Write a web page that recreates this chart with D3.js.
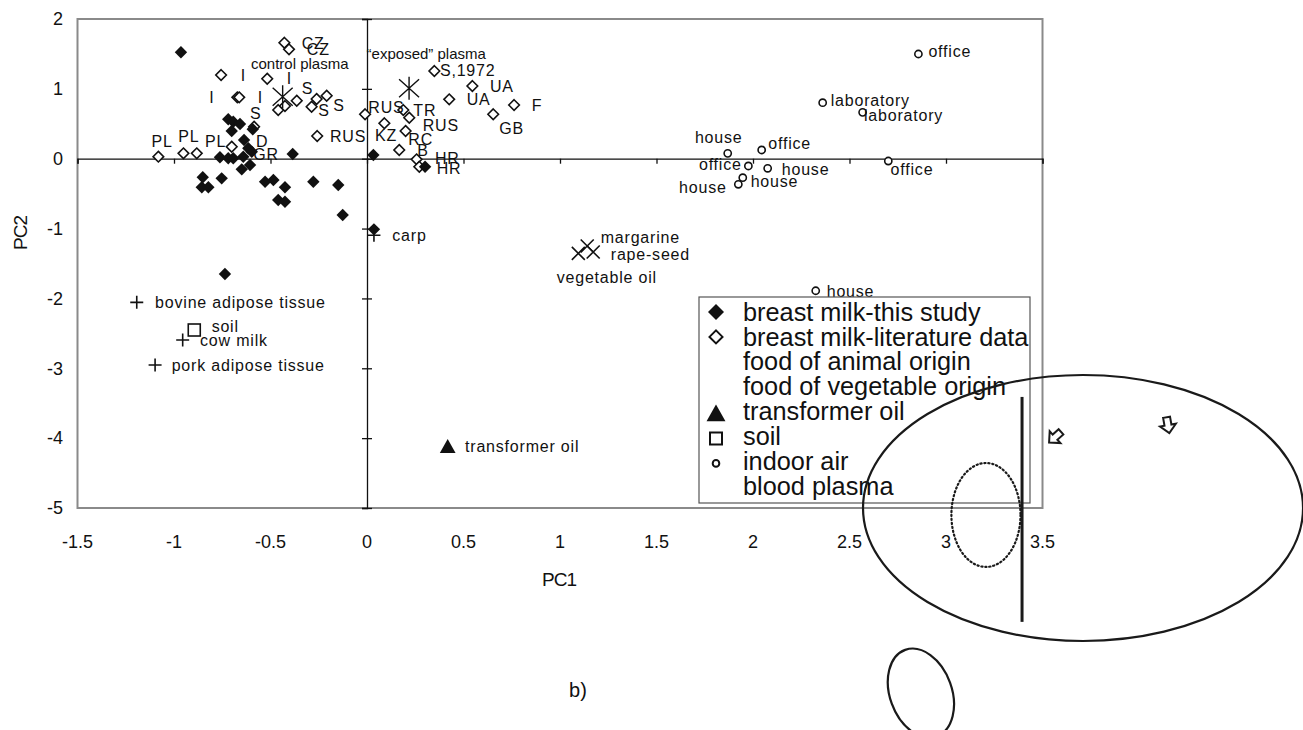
<!DOCTYPE html>
<html>
<head>
<meta charset="utf-8">
<script src="https://cdn.jsdelivr.net/npm/d3@7"></script>
<style>
  body { margin: 0; background: #fff; }
  svg text { font-family: "Liberation Sans", Arial, sans-serif; fill: #111; }
</style>
</head>
<body>
<svg id="chart" width="1303" height="730"></svg>
<script>
// PCA scores [PC1, PC2] per sample group
const milkThisStudy = [
  [-0.964, 1.523], [-0.719, 0.564], [-0.693, 0.530], [-0.658, 0.497], [-0.701, 0.397],
  [-0.592, 0.421], [-0.637, 0.268], [-0.615, 0.149], [-0.762, 0.020], [-0.719, 0.006],
  [-0.693, 0.006], [-0.641, 0.029], [-0.597, 0.100], [-0.385, 0.067], [0.033, 0.053],
  [-0.649, -0.152], [-0.606, -0.090], [-0.851, -0.266], [-0.753, -0.281], [-0.856, -0.409],
  [-0.822, -0.409], [-0.528, -0.329], [-0.485, -0.305], [-0.425, -0.409], [-0.278, -0.329],
  [-0.149, -0.376], [-0.460, -0.591], [-0.425, -0.616], [-0.126, -0.806], [0.036, -1.011],
  [-0.736, -1.650], [0.301, -0.115]
];
const milkLiterature = [
  [-0.428, 1.660], [-0.404, 1.566], [-0.756, 1.198], [-0.517, 1.145], [-0.672, 0.879],
  [-0.662, 0.879], [-0.460, 0.697], [-0.425, 0.754], [-0.364, 0.830], [-0.287, 0.744],
  [-0.261, 0.855], [-0.209, 0.902], [-0.258, 0.325], [-0.010, 0.636], [0.090, 0.507],
  [0.188, 0.697], [0.219, 0.587], [0.200, 0.397], [0.167, 0.125], [0.257, -0.009],
  [0.271, -0.115], [0.349, 1.255], [0.546, 1.041], [0.426, 0.850], [0.762, 0.769],
  [0.654, 0.636], [-1.081, 0.029], [-0.951, 0.077], [-0.882, 0.077], [-0.701, 0.172],
  [-0.585, 0.458]
];
const animalFood = [[-1.193, -2.056], [-0.955, -2.595], [-1.098, -2.953], [0.036, -1.095]];
const vegetableFood = [[1.095, -1.355], [1.141, -1.250], [1.172, -1.336]];
const transformerOil = [[0.418, -4.120]];
const soil = [[-0.895, -2.452]];
const indoorAir = [
  [2.857, 1.499], [2.361, 0.802], [2.568, 0.664], [1.869, 0.077], [2.045, 0.125],
  [1.976, -0.104], [2.076, -0.137], [2.701, -0.033], [1.947, -0.272], [1.924, -0.366],
  [2.325, -1.890]
];
const bloodPlasma = [[-0.437, 0.888], [0.218, 1.008]];

// Sample names, anchored at [PC1, PC2] of the text start
const pointLabels = [
  ["CZ", -0.338, 1.660], ["CZ", -0.312, 1.566],
  ["I", -0.654, 1.198], ["I", -0.416, 1.145], ["I", -0.817, 0.879], ["I", -0.566, 0.879],
  ["S", -0.338, 1.008], ["S", -0.606, 0.650], ["S", -0.252, 0.697], ["S", -0.175, 0.769],
  ["RUS", -0.192, 0.315], ["RUS", 0.007, 0.744], ["KZ", 0.041, 0.339], ["TR", 0.240, 0.697],
  ["RUS", 0.289, 0.482], ["RC", 0.214, 0.278], ["B", 0.261, 0.125],
  ["HR", 0.352, 0.006], ["HR", 0.361, -0.137],
  ["S,1972", 0.378, 1.270], ["UA", 0.637, 1.031], ["UA", 0.517, 0.850],
  ["F", 0.853, 0.769], ["GB", 0.685, 0.435],
  ["PL", -1.116, 0.243], ["PL", -0.978, 0.315], ["PL", -0.839, 0.243],
  ["D", -0.575, 0.243], ["GR", -0.589, 0.067],
  ["office", 2.909, 1.532], ["laboratory", 2.403, 0.840], ["laboratory", 2.575, 0.626],
  ["house", 1.699, 0.301], ["office", 2.079, 0.220], ["office", 1.720, -0.076],
  ["house", 2.149, -0.152], ["office", 2.713, -0.152], ["house", 1.988, -0.319],
  ["house", 1.617, -0.415], ["house", 2.382, -1.890],
  ["bovine adipose tissue", -1.098, -2.056], ["soil", -0.805, -2.405],
  ["cow milk", -0.865, -2.595], ["pork adipose tissue", -1.012, -2.953],
  ["carp", 0.131, -1.092], ["margarine", 1.211, -1.117], ["rape-seed", 1.263, -1.364],
  ["vegetable oil", 0.983, -1.703], ["transformer oil", 0.508, -4.123]
];
const plasmaLabels = [["control plasma", -0.601, 1.366], ["\u201cexposed\u201d plasma", -0.002, 1.509]];

const xTicks = [-1.5, -1, -0.5, 0, 0.5, 1, 1.5, 2, 2.5, 3, 3.5];
const yTicks = [2, 1, 0, -1, -2, -3, -4, -5];

const legendItems = [
  ["milkThis", "breast milk-this study"],
  ["milkLit", "breast milk-literature data"],
  ["none", "food of animal origin"],
  ["none", "food of vegetable origin"],
  ["triangle", "transformer oil"],
  ["square", "soil"],
  ["circle", "indoor air"],
  ["none", "blood plasma"]
];

const svg = d3.select("#chart");
const x = d3.scaleLinear().domain([-1.5, 3.5]).range([77.5, 1042.5]);
const y = d3.scaleLinear().domain([-5, 2]).range([508, 19]);

// frame
svg.append("rect")
  .attr("x", x(-1.5)).attr("y", y(2))
  .attr("width", x(3.5) - x(-1.5)).attr("height", y(-5) - y(2))
  .attr("fill", "none").attr("stroke", "#8a8a8a").attr("stroke-width", 2);

// axes crossing at the origin
const xAxis = d3.axisBottom(x).tickValues(xTicks).tickSize(5).tickFormat("");
svg.append("g").attr("transform", `translate(0,${y(0)})`).call(xAxis)
  .call(g => g.selectAll("path,line").attr("stroke", "#111").attr("stroke-width", 1.3));
const yAxis = d3.axisLeft(y).tickValues(yTicks).tickSize(5).tickFormat("");
svg.append("g").attr("transform", `translate(${x(0)},0)`).call(yAxis)
  .call(g => g.selectAll("path,line").attr("stroke", "#111").attr("stroke-width", 1.3))
  .call(g => g.selectAll(".tick line").attr("x2", 5).attr("x1", -5));

// tick labels along the frame edges
svg.append("g").selectAll("text").data(xTicks).join("text")
  .attr("x", d => x(d)).attr("y", 548)
  .attr("text-anchor", "middle").attr("font-size", 18)
  .text(d => d);
svg.append("g").selectAll("text").data(yTicks).join("text")
  .attr("x", 63).attr("y", d => y(d)).attr("dy", "0.35em")
  .attr("text-anchor", "end").attr("font-size", 18)
  .text(d => d);

svg.append("text").attr("x", 559).attr("y", 586).attr("text-anchor", "middle")
  .attr("font-size", 19).attr("letter-spacing", -1).text("PC1");
svg.append("text").attr("transform", "translate(27,233) rotate(-90)")
  .attr("text-anchor", "middle").attr("font-size", 19).attr("letter-spacing", -1).text("PC2");

// marker shapes
const diamond = r => `M0,${-r}L${r},0L0,${r}L${-r},0Z`;
const plus = r => `M${-r},0H${r}M0,${-r}V${r}`;
const cross = r => `M${-r},${-r}L${r},${r}M${-r},${r}L${r},${-r}`;
const star = r => `M${-r},${-r * 0.9}L${r},${r * 0.9}M${-r},${r * 0.9}L${r},${-r * 0.9}M0,${-r * 1.15}V${r * 1.15}`;
const tri = r => `M0,${-r}L${r * 1.05},${r * 0.85}L${-r * 1.05},${r * 0.85}Z`;

const marks = svg.append("g");
function drawPaths(data, path, fill, stroke, sw) {
  marks.append("g").selectAll("path").data(data).join("path")
    .attr("transform", d => `translate(${x(d[0])},${y(d[1])})`)
    .attr("d", path)
    .attr("fill", fill).attr("stroke", stroke).attr("stroke-width", sw);
}
drawPaths(milkLiterature, diamond(5.3), "#fff", "#111", 1.6);
drawPaths(milkThisStudy, diamond(6.2), "#111", "none", 0);
drawPaths(animalFood, plus(6.5), "none", "#111", 1.6);
drawPaths(vegetableFood, cross(6.5), "none", "#111", 1.6);
drawPaths(transformerOil, tri(7.5), "#111", "none", 0);
marks.append("g").selectAll("rect").data(soil).join("rect")
  .attr("x", d => x(d[0]) - 6).attr("y", d => y(d[1]) - 6)
  .attr("width", 12).attr("height", 12)
  .attr("fill", "#fff").attr("stroke", "#111").attr("stroke-width", 1.6);
marks.append("g").selectAll("circle").data(indoorAir).join("circle")
  .attr("cx", d => x(d[0])).attr("cy", d => y(d[1])).attr("r", 3.6)
  .attr("fill", "#fff").attr("stroke", "#111").attr("stroke-width", 1.6);
drawPaths(bloodPlasma, star(10), "none", "#111", 1.4);

// labels
svg.append("g").selectAll("text").data(pointLabels).join("text")
  .attr("x", d => x(d[1])).attr("y", d => y(d[2])).attr("dy", "0.36em")
  .attr("font-size", 16).attr("letter-spacing", 0.8)
  .text(d => d[0]);
svg.append("g").selectAll("text").data(plasmaLabels).join("text")
  .attr("x", d => x(d[1])).attr("y", d => y(d[2])).attr("dy", "0.36em")
  .attr("font-size", 15).attr("fill", "#333")
  .text(d => d[0]);

// legend
const lg = svg.append("g").attr("transform", "translate(699,297)");
lg.append("rect").attr("width", 331).attr("height", 206)
  .attr("fill", "#fff").attr("stroke", "#555").attr("stroke-width", 1.2);
const clip = svg.append("clipPath").attr("id", "lgclip");
clip.append("rect").attr("width", 330).attr("height", 206);
const rows = lg.append("g").attr("clip-path", "url(#lgclip)")
  .selectAll("g").data(legendItems).join("g")
  .attr("transform", (d, i) => `translate(0,${15 + i * 24.9})`);
rows.append("text").attr("x", 44).attr("y", 0).attr("dy", "0.34em")
  .attr("font-size", 25.3).text(d => d[1]);
rows.each(function(d) {
  const g = d3.select(this);
  if (d[0] === "milkThis") g.append("path").attr("transform", "translate(17,0)").attr("d", diamond(8)).attr("fill", "#111");
  if (d[0] === "milkLit") g.append("path").attr("transform", "translate(17,0)").attr("d", diamond(6.5)).attr("fill", "#fff").attr("stroke", "#111").attr("stroke-width", 2);
  if (d[0] === "triangle") g.append("path").attr("transform", "translate(17,2)").attr("d", tri(9)).attr("fill", "#111");
  if (d[0] === "square") g.append("rect").attr("x", 11).attr("y", -4).attr("width", 12).attr("height", 12).attr("fill", "#fff").attr("stroke", "#111").attr("stroke-width", 2);
  if (d[0] === "circle") g.append("circle").attr("cx", 17).attr("cy", 2).attr("r", 3.3).attr("fill", "#fff").attr("stroke", "#111").attr("stroke-width", 2);
});

// hand-drawn outlines on top of the plot
const ink = svg.append("g").attr("fill", "none").attr("stroke", "#1a1a1a");
const sx = d => Math.abs(x(d) - x(0));
const sy = d => Math.abs(y(d) - y(0));
ink.append("ellipse").attr("cx", x(3.71)).attr("cy", y(-5.0))
  .attr("rx", sx(1.14)).attr("ry", sy(1.904)).attr("stroke-width", 2.2);
ink.append("ellipse").attr("cx", x(3.207)).attr("cy", y(-5.10))
  .attr("rx", sx(0.179)).attr("ry", sy(0.744))
  .attr("stroke-width", 2.2).attr("stroke-dasharray", "1.2 2.8").attr("stroke-linecap", "round");
ink.append("line").attr("x1", x(3.394)).attr("x2", x(3.394))
  .attr("y1", y(-3.41)).attr("y2", y(-6.63)).attr("stroke-width", 3);
ink.append("ellipse").attr("transform", `translate(${x(2.87)},${y(-7.65)}) rotate(-20)`)
  .attr("rx", 31).attr("ry", 46).attr("stroke-width", 2.2);

const arrow = "M-3.5,-8H3.5V0H8L0,8L-8,0H-3.5Z";
[[3.565, -3.986, 48], [4.150, -3.814, -10]].forEach(a => {
  ink.append("path").attr("transform", `translate(${x(a[0])},${y(a[1])}) rotate(${a[2]})`)
    .attr("d", arrow).attr("stroke-width", 2).attr("stroke-linejoin", "miter");
});

svg.append("text").attr("x", 578).attr("y", 697).attr("text-anchor", "middle")
  .attr("font-size", 20).text("b)");
</script>
</body>
</html>
